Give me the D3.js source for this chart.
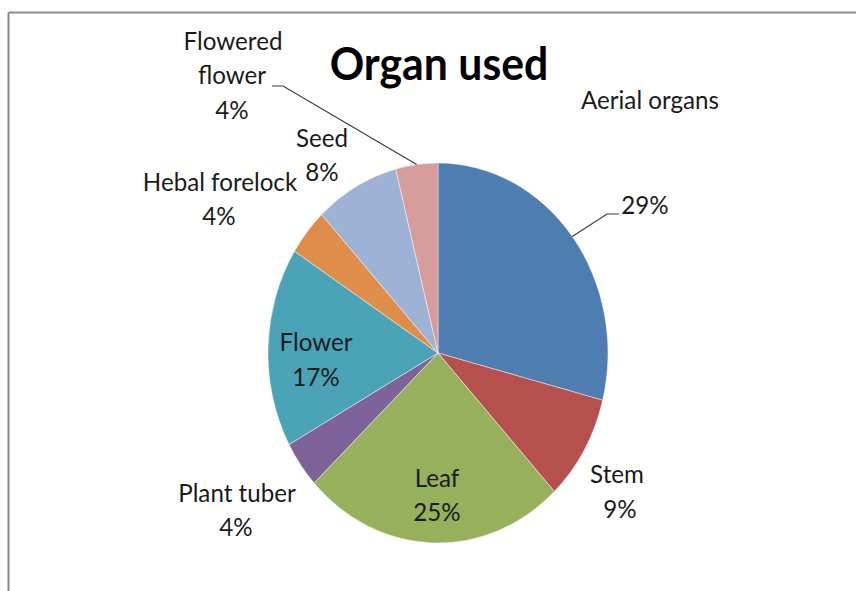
<!DOCTYPE html>
<html>
<head>
<meta charset="utf-8">
<script src="https://cdn.jsdelivr.net/npm/d3@7"></script>
<style>
  html, body { margin: 0; padding: 0; background: #fff; }
  text { font-family: Lato, "Open Sans", sans-serif; fill: #1a1a1a; }
</style>
</head>
<body>
<svg id="chart" width="856" height="591"></svg>
<script>
// slice data, clockwise from 12 o'clock
const organs = ["Aerial organs", "Stem", "Leaf", "Plant tuber", "Flower", "Hebal forelock", "Seed", "Flowered flower"];
const shares = [29, 9, 25, 4, 17, 4, 8, 4];
const sliceColors = ["#4E7DB0", "#B5504E", "#97B05B", "#7D6399", "#4BA3B8", "#DE8D4A", "#9EB2D5", "#D69B9B"];

// label lines as drawn in the picture (Excel split some of them by hand)
const labelLines = [
    [["Aerial organs", 650, 109], ["29%", 645, 214]],
    [["Stem", 617, 483], ["9%", 620, 518]],
    [["Leaf", 437, 487], ["25%", 437, 521]],
    [["Plant tuber", 237, 502], ["4%", 236, 536]],
    [["Flower", 316, 351], ["17%", 316, 386]],
    [["Hebal forelock", 220, 191], ["4%", 219, 225]],
    [["Seed", 322, 147], ["8%", 322, 181]],
    [["Flowered", 233, 50], ["flower", 232, 84], ["4%", 232, 119]]
];
// leader lines: start of the little horizontal tick next to the label
const leaders = [
    { i: 0, x0: 619, x1: 607, y: 214 },
    { i: 7, x0: 272, x1: 283, y: 86 }
];

const width = 856, height = 591;
const cx = 438, cy = 353;
const ry = 190, rx = 170;
const squeeze = 0.93;

const svg = d3.select("#chart");

// frame (only top and left edges are visible in the crop)
svg.append("line").attr("x1", 8.5).attr("y1", 12.5).attr("x2", width).attr("y2", 12.5)
    .attr("stroke", "#8a8a8a").attr("stroke-width", 2);
svg.append("line").attr("x1", 8.5).attr("y1", 12.5).attr("x2", 8.5).attr("y2", height)
    .attr("stroke", "#8a8a8a").attr("stroke-width", 2);

const pie = d3.pie().sort(null).value(d => d)(shares);
const arc = d3.arc().innerRadius(0).outerRadius(ry);

// pie is drawn as a circle and stretched into the ellipse of the picture
const pieG = svg.append("g")
    .attr("transform", `translate(${cx},${cy}) scale(${rx / ry},1)`);

pieG.selectAll("path")
    .data(pie)
    .enter()
    .append("path")
    .attr("d", arc)
    .attr("fill", (d, i) => sliceColors[i])
    .attr("stroke", "#ffffff")
    .attr("stroke-opacity", 0.6)
    .attr("stroke-width", 0.8);

// leader lines go to the middle of the slice rim
leaders.forEach(l => {
    const a = (pie[l.i].startAngle + pie[l.i].endAngle) / 2;
    const px = cx + rx * Math.sin(a);
    const py = cy - ry * Math.cos(a);
    svg.append("path")
        .attr("d", d3.line()([[l.x0, l.y], [l.x1, l.y], [px, py]]))
        .attr("fill", "none")
        .attr("stroke", "#3a3a3a")
        .attr("stroke-width", 1.2);
});

// data labels
const labelG = svg.append("g");
labelLines.forEach((lines, i) => {
    lines.forEach(([txt, x, y]) => {
        labelG.append("text")
            .attr("transform", `translate(${x},${y}) scale(${squeeze},1)`)
            .attr("text-anchor", "middle")
            .attr("font-size", 26)
            .text(txt);
    });
});

// title
svg.append("text")
    .attr("transform", `translate(${cx + 1},80) scale(${squeeze},1)`)
    .attr("text-anchor", "middle")
    .attr("font-size", 46)
    .attr("font-weight", "bold")
    .style("fill", "#000")
    .text("Organ used");
</script>
</body>
</html>
